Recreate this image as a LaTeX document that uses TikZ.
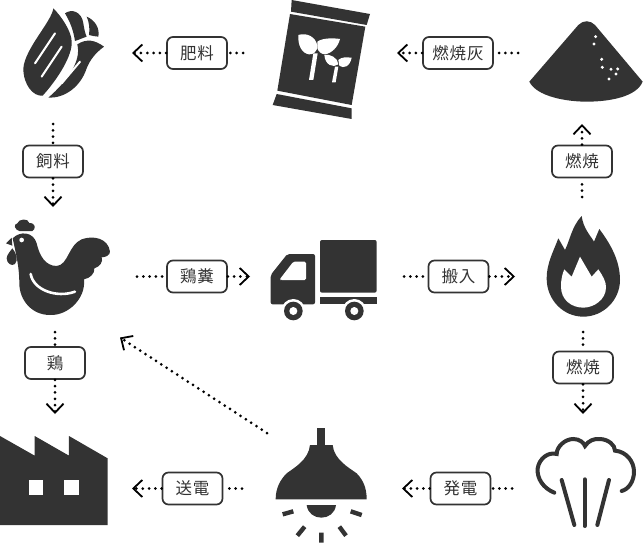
\documentclass[tikz,border=0pt]{standalone}
\usepackage{fontspec}
\usetikzlibrary{arrows.meta}
\newfontfamily\jpfont[LetterSpace=6]{Noto Sans CJK JP}
\definecolor{iconGray}{HTML}{333333}
\tikzstyle{labelBox}=[shape = rectangle, rounded corners = 6pt, draw = iconGray, line width = 1.7pt, fill = white, text = iconGray, minimum width = 60pt, minimum height = 32pt, inner sep = 0pt, font = \jpfont\fontsize{16.5pt}{18pt}\selectfont]
\tikzstyle{dotsOnly}=[line width = 3pt, line cap = round, dash pattern = on 0pt off 6.3pt, black]
\tikzstyle{flowArrow}=[dotsOnly, -{Straight Barb[length = 9pt, width = 17pt, line width = 1.8pt]}]
\tikzstyle{iconFill}=[fill = iconGray, draw = none]
\tikzstyle{iconLine}=[draw = iconGray, line cap = round, line width = 4pt]
\tikzstyle{iconCut}=[fill = white, draw = none]
\begin{document}
\begin{tikzpicture}[x = 1pt, y = -1pt]
\useasboundingbox (0,0) rectangle (643,543);
% leaf
\begin{scope}[shift = {(20,5)}, scale = 1/3]
\fill[iconFill] (100,10) .. controls (125,35) and (155,80) .. (155,110) .. controls (158,150) and (115,220) .. (68,272) .. controls (40,275) and (10,240) .. (10,190) .. controls (15,130) and (95,50) .. (100,10) -- cycle;
\fill[iconFill] (172,118) .. controls (200,100) and (225,105) .. (252,125) .. controls (225,145) and (210,165) .. (200,190) .. controls (180,250) and (130,280) .. (85,278) .. controls (140,230) and (185,170) .. (172,118) -- cycle;
\fill[iconFill] (135,25) .. controls (155,10) and (185,20) .. (190,55) .. controls (193,75) and (197,90) .. (200,95) .. controls (185,100) and (175,105) .. (165,108) .. controls (160,75) and (150,50) .. (135,25) -- cycle;
\fill[iconFill] (200,35) .. controls (225,45) and (240,70) .. (235,95) .. controls (225,95) and (218,92) .. (207,90) .. controls (210,70) and (207,50) .. (200,35) -- cycle;
\draw[draw = white, line width = 2pt, line cap = round] (45,175) -- (105,85) (65,215) -- (125,125) (125,235) -- (180,170);
\end{scope}
% fertilizer bag
\begin{scope}[shift = {(240,0)}, scale = 1/3]
\fill[iconFill] (155,0) -- (390,42) -- (380,75) -- (153,35) -- cycle;
\fill[iconFill] (150,42) -- (376,80) -- (335,315) -- (112,272) -- cycle;
\fill[iconFill] (110,282) -- (335,325) -- (335,357) -- (98,315) -- cycle;
\end{scope}
\begin{scope}[shift = {(285,25)}, scale = 1/3]
\fill[iconCut] (72,165) -- (85,165) -- (98,85) -- (85,85) -- cycle;
\fill[iconCut] (40,30) .. controls (65,22) and (92,35) .. (97,62) .. controls (98,78) and (85,90) .. (72,88) .. controls (50,85) and (38,60) .. (40,30) -- cycle;
\fill[iconCut] (97,50) .. controls (110,40) and (140,38) .. (165,42) .. controls (160,65) and (140,85) .. (120,88) .. controls (110,88) and (100,80) .. (97,70) -- cycle;
\fill[iconCut] (141,172) -- (152,172) -- (160,125) -- (150,125) -- cycle;
\fill[iconCut] (118,90) .. controls (135,85) and (160,100) .. (160,118) .. controls (145,130) and (120,120) .. (118,90) -- cycle;
\fill[iconCut] (160,105) .. controls (170,95) and (185,97) .. (200,98) .. controls (195,125) and (175,132) .. (163,122) -- cycle;
\end{scope}
% ash
\begin{scope}[shift = {(240,0)}, scale = 1/3]
\fill[iconFill] (1015,75) -- (868,245) .. controls (890,290) and (980,305) .. (1040,305) .. controls (1110,305) and (1190,290) .. (1208,245) -- (1065,75) .. controls (1050,60) and (1030,60) .. (1015,75) -- cycle;
\foreach \dotX/\dotY in {1067/110, 1062/132, 1085/178, 1087/202, 1113/208, 1133/207, 1128/222, 1107/237}
\fill[iconCut] (\dotX,\dotY) circle (5);
\end{scope}
% hen
\begin{scope}[shift = {(0,210)}, scale = 1/3]
\fill[iconFill] (38,85) .. controls (60,62) and (100,65) .. (110,100) .. controls (118,135) and (135,168) .. (170,168) .. controls (205,165) and (205,105) .. (245,88) .. controls (280,75) and (325,85) .. (330,125) .. controls (330,135) and (318,142) .. (305,142) .. controls (310,155) and (300,170) .. (283,175) .. controls (285,190) and (270,205) .. (252,208) .. controls (258,265) and (205,317) .. (150,315) .. controls (95,315) and (58,270) .. (58,220) .. controls (58,175) and (50,140) .. (38,85) -- cycle;
\fill[iconCut] (65,90) circle (7);
\draw[draw = white, line width = 2.6pt, line cap = round] (92,192) .. controls (100,240) and (170,265) .. (225,245);
\end{scope}
\begin{scope}[shift = {(0,215)}, scale = 1/3]
\fill[iconFill] (58,48) .. controls (45,45) and (38,28) .. (52,25) .. controls (55,12) and (85,8) .. (88,24) .. controls (108,24) and (108,42) .. (97,48) -- cycle;
\fill[iconFill] (35,68) -- (18,85) -- (37,92) -- cycle;
\fill[iconFill] (37,100) .. controls (50,115) and (55,135) .. (45,147) .. controls (35,155) and (20,145) .. (20,130) .. controls (20,120) and (30,110) .. (37,100) -- cycle;
\end{scope}
% truck
\begin{scope}[shift = {(250,210)}, scale = 1/3]
\fill[iconFill, rounded corners = 2pt] (210,90) rectangle (380,248);
\fill[iconFill, rounded corners = 2pt] (62,195) -- (112,132) -- (195,132) -- (195,283) -- (62,283) -- cycle;
\fill[iconFill] (210,262) rectangle (380,283);
\fill[iconCut, rounded corners = 1.5pt] (90,207) -- (130,155) -- (168,155) -- (168,210) -- (90,210) -- cycle;
\foreach \wheelX in {130, 313} {
\fill[iconCut] (\wheelX,303) circle (36);
\fill[iconFill] (\wheelX,303) circle (28);
\fill[iconCut] (\wheelX,303) circle (12);
}
\end{scope}
% fire
\begin{scope}[shift = {(250,210)}, scale = 1/3]
\fill[iconFill] (925,85) -- (945,120) .. controls (960,90) and (965,50) .. (995,18) .. controls (1000,55) and (1020,75) .. (1032,95) -- (1048,57) .. controls (1080,100) and (1110,150) .. (1110,210) .. controls (1110,270) and (1060,320) .. (1000,320) .. controls (940,320) and (890,270) .. (890,205) .. controls (890,160) and (910,125) .. (925,85) -- cycle;
\fill[iconCut] (990,140) -- (1025,200) -- (1045,178) .. controls (1060,200) and (1068,215) .. (1068,232) .. controls (1068,270) and (1030,293) .. (1000,293) .. controls (965,293) and (933,270) .. (933,230) .. controls (933,205) and (938,190) .. (943,178) -- (965,200) -- cycle;
\end{scope}
% factory
\begin{scope}[shift = {(0,325)}, scale = 1/3]
\fill[iconFill] (0,333) -- (104,392) -- (104,333) -- (207,392) -- (207,333) -- (323,400) -- (323,600) -- (0,600) -- cycle;
\fill[iconCut] (87,466) rectangle (130,509);
\fill[iconCut] (193,466) rectangle (237,509);
\end{scope}
% lamp
\begin{scope}[shift = {(260,340)}, scale = 1/3]
\fill[iconFill] (172,265) rectangle (195,320);
\fill[iconFill] (150,315) -- (218,315) .. controls (222,360) and (270,385) .. (290,400) .. controls (310,420) and (320,445) .. (320,478) -- (47,478) .. controls (47,445) and (60,420) .. (80,400) .. controls (100,385) and (146,360) .. (150,315) -- cycle;
\fill[iconFill] (140,495) -- (228,495) .. controls (225,520) and (205,533) .. (184,533) .. controls (163,533) and (143,520) .. (140,495) -- cycle;
\draw[draw = iconGray, line width = 4.4pt] (68,523) -- (100,514) (272,514) -- (305,525) (112,587) -- (134,560) (258,587) -- (238,560) (184,578) -- (184,608);
\end{scope}
% smoke
\begin{scope}[shift = {(260,340)}, scale = 1/3]
\draw[iconLine] (883,458) .. controls (850,445) and (830,415) .. (833,385) .. controls (838,355) and (865,335) .. (890,342) .. controls (890,320) and (915,297) .. (940,297) .. controls (958,297) and (972,308) .. (975,318) .. controls (985,302) and (1003,295) .. (1020,297) .. controls (1045,298) and (1065,315) .. (1065,332) .. controls (1100,335) and (1122,365) .. (1122,395) .. controls (1122,425) and (1105,448) .. (1085,453);
\draw[iconLine] (905,420) -- (943,555);
\draw[iconLine] (974,418) -- (974,558);
\draw[iconLine] (1047,420) -- (1012,555);
\end{scope}
% labels
\node[labelBox, minimum width = 70pt] (ashLabel) at (458,53) {燃焼灰};
\node[labelBox] (fertLabel) at (197,53) {肥料};
\node[labelBox] (feedLabel) at (53,161.5) {飼料};
\node[labelBox] (dungLabel) at (197,276.5) {鶏糞};
\node[labelBox] (haulLabel) at (458.5,276.5) {搬入};
\node[labelBox] (burnUpLabel) at (582,161.5) {燃焼};
\node[labelBox] (burnDownLabel) at (583,367.5) {燃焼};
\node[labelBox] (genLabel) at (460.5,488.5) {発電};
\node[labelBox] (sendLabel) at (192.5,488.5) {送電};
\node[labelBox] (henLabel) at (55,363) {鶏};
% free ends
\coordinate (ashOut) at (518,53);
\coordinate (bagIn) at (397,53);
\coordinate (bagOut) at (243,53);
\coordinate (leafIn) at (132,53);
\coordinate (leafOut) at (53,124);
\coordinate (henIn) at (53,207);
\coordinate (henOut) at (137,276.5);
\coordinate (truckIn) at (250,276.5);
\coordinate (truckOut) at (404,276.5);
\coordinate (fireIn) at (515,276.5);
\coordinate (fireUp) at (582,197);
\coordinate (ashIn) at (582,124);
\coordinate (fireDown) at (583,332);
\coordinate (smokeIn) at (583,414);
\coordinate (smokeOut) at (512,488.5);
\coordinate (lampIn) at (402,488.5);
\coordinate (lampOut) at (242,488.5);
\coordinate (factoryIn) at (132,488.5);
\coordinate (henDown) at (55,332);
\coordinate (factoryTop) at (55,414);
\coordinate (lampUp) at (267,433);
\coordinate (henBack) at (120,337.5);
% connectors
\draw[dotsOnly] (ashOut) -- (ashLabel);
\draw[flowArrow] (ashLabel) -- (bagIn);
\draw[dotsOnly] (bagOut) -- (fertLabel);
\draw[flowArrow] (fertLabel) -- (leafIn);
\draw[dotsOnly] (leafOut) -- (feedLabel);
\draw[flowArrow] (feedLabel) -- (henIn);
\draw[dotsOnly] (henOut) -- (dungLabel);
\draw[flowArrow] (dungLabel) -- (truckIn);
\draw[dotsOnly] (truckOut) -- (haulLabel);
\draw[flowArrow] (haulLabel) -- (fireIn);
\draw[dotsOnly] (fireUp) -- (burnUpLabel);
\draw[flowArrow] (burnUpLabel) -- (ashIn);
\draw[dotsOnly] (fireDown) -- (burnDownLabel);
\draw[flowArrow] (burnDownLabel) -- (smokeIn);
\draw[dotsOnly] (smokeOut) -- (genLabel);
\draw[flowArrow] (genLabel) -- (lampIn);
\draw[dotsOnly] (lampOut) -- (sendLabel);
\draw[flowArrow] (sendLabel) -- (factoryIn);
\draw[dotsOnly] (henDown) -- (henLabel);
\draw[flowArrow] (henLabel) -- (factoryTop);
\draw[flowArrow] (lampUp) -- (henBack);
\end{tikzpicture}
\end{document}
